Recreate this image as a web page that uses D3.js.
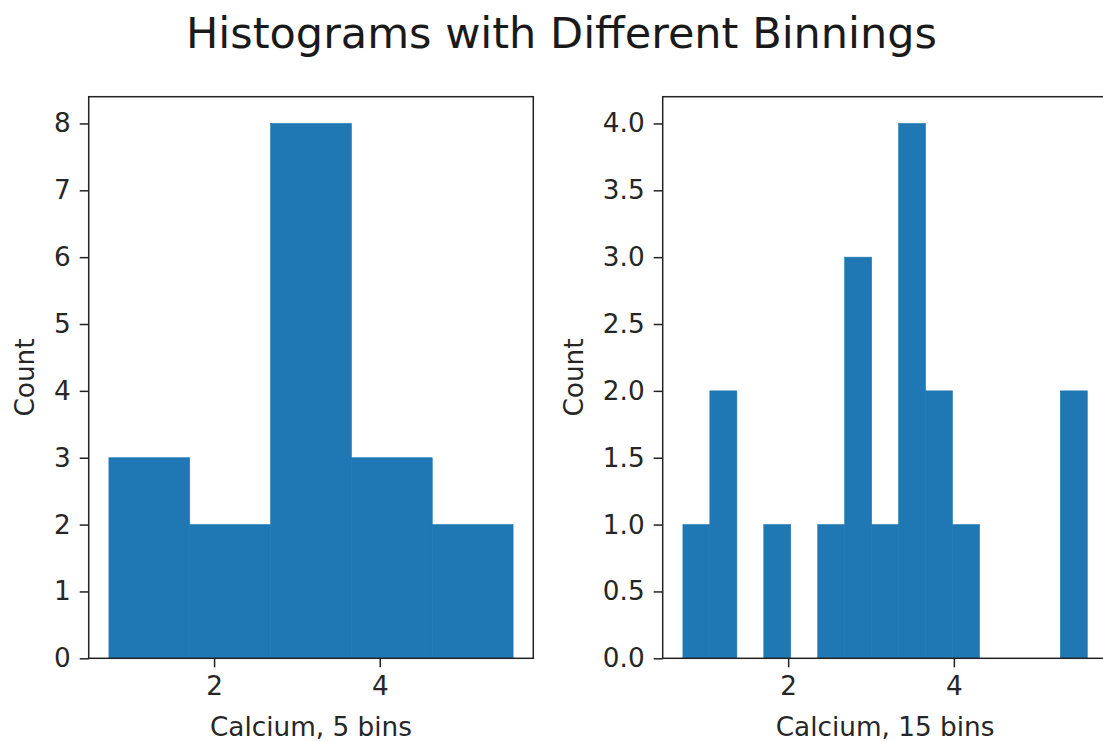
<!DOCTYPE html>
<html>
<head>
<meta charset="utf-8">
<script src="https://cdn.jsdelivr.net/npm/d3@7"></script>
<style>
  html, body { margin: 0; padding: 0; background: #fff; }
  svg { display: block; }
  text { font-family: "DejaVu Sans", sans-serif; fill: #262626; }
</style>
</head>
<body>
<svg id="chart" width="1103" height="742"></svg>
<script>
// ---- data ----
const titleText = "Histograms with Different Binnings";
const yLabel = "Count";

// 5-bin histogram
const edges5 = [0.73, 1.706, 2.682, 3.658, 4.634, 5.61];
const counts5 = [3, 2, 8, 3, 2];
const xLabel5 = "Calcium, 5 bins";
const yTicks5 = [0, 1, 2, 3, 4, 5, 6, 7, 8];

// 15-bin histogram
const edges15 = [0.73, 1.055, 1.381, 1.706, 2.031, 2.357, 2.682, 3.007, 3.333,
                 3.658, 3.983, 4.309, 4.634, 4.959, 5.285, 5.61];
const counts15 = [1, 2, 0, 1, 0, 1, 3, 1, 4, 2, 1, 0, 0, 0, 2];
const xLabel15 = "Calcium, 15 bins";
const yTicks15 = [0, 0.5, 1, 1.5, 2, 2.5, 3, 3.5, 4];

const xTicks = [2, 4];

// ---- layout ----
(function () {
const svg = d3.select("#chart");
const plotTop = 96.7, plotBottom = 658.3;
const panels = [
  { left: 88.7, right: 533.3, edges: edges5, counts: counts5, xLabel: xLabel5,
    yTicks: yTicks5, yMax: 8.4, fmt: d3.format("d"), yLabelX: 34 },
  { left: 662.7, right: 1107.5, edges: edges15, counts: counts15, xLabel: xLabel15,
    yTicks: yTicks15, yMax: 4.2, fmt: d3.format(".1f"), yLabelX: 583 }
];

const fontSize = 26.3;
const tickLen = 9, tickPad = 9;

svg.append("text")
  .attr("x", 561.5).attr("y", 48)
  .attr("text-anchor", "middle")
  .style("font-size", "43px")
  .style("fill", "#1a1a1a")
  .text(titleText);

panels.forEach(p => {
  const lo = p.edges[0], hi = p.edges[p.edges.length - 1];
  const pad = (hi - lo) * 0.05;
  const x = d3.scaleLinear().domain([lo - pad, hi + pad]).range([p.left, p.right]);
  const y = d3.scaleLinear().domain([0, p.yMax]).range([plotBottom, plotTop]);

  const bins = p.counts.map((c, i) => ({ x0: p.edges[i], x1: p.edges[i + 1], c }));

  const g = svg.append("g");
  g.selectAll("rect.bar").data(bins.filter(d => d.c > 0)).join("rect")
    .attr("class", "bar")
    .attr("x", d => x(d.x0))
    .attr("width", d => x(d.x1) - x(d.x0))
    .attr("y", d => y(d.c))
    .attr("height", d => y(0) - y(d.c))
    .attr("fill", "#1f77b4")
    .attr("stroke", "#1f77b4")
    .attr("stroke-width", 0.6);

  // x axis
  const xa = g.append("g").attr("transform", `translate(0,${plotBottom})`)
    .call(d3.axisBottom(x).tickValues(xTicks).tickFormat(d3.format("d"))
      .tickSize(tickLen).tickSizeOuter(0).tickPadding(tickPad));
  xa.select(".domain").remove();
  xa.selectAll(".tick line").attr("stroke", "#222").attr("stroke-width", 1.5);
  xa.selectAll(".tick text").style("font-size", fontSize + "px")
    .style("font-family", "DejaVu Sans").attr("fill", "#262626");

  // y axis
  const ya = g.append("g").attr("transform", `translate(${p.left},0)`)
    .call(d3.axisLeft(y).tickValues(p.yTicks).tickFormat(p.fmt)
      .tickSize(tickLen).tickSizeOuter(0).tickPadding(tickPad));
  ya.select(".domain").remove();
  ya.selectAll(".tick line").attr("stroke", "#222").attr("stroke-width", 1.5);
  ya.selectAll(".tick text").style("font-size", fontSize + "px")
    .style("font-family", "DejaVu Sans").attr("fill", "#262626");

  // spines
  g.append("rect")
    .attr("x", p.left).attr("y", plotTop)
    .attr("width", p.right - p.left).attr("height", plotBottom - plotTop)
    .attr("fill", "none").attr("stroke", "#222").attr("stroke-width", 1.5);

  // axis labels
  g.append("text")
    .attr("x", (p.left + p.right) / 2).attr("y", 735.5)
    .attr("text-anchor", "middle")
    .style("font-size", fontSize + "px")
    .text(p.xLabel);

  g.append("text")
    .attr("transform", `translate(${p.yLabelX},${(plotTop + plotBottom) / 2}) rotate(-90)`)
    .attr("text-anchor", "middle")
    .style("font-size", fontSize + "px")
    .text(yLabel);
});
})();
</script>
</body>
</html>
